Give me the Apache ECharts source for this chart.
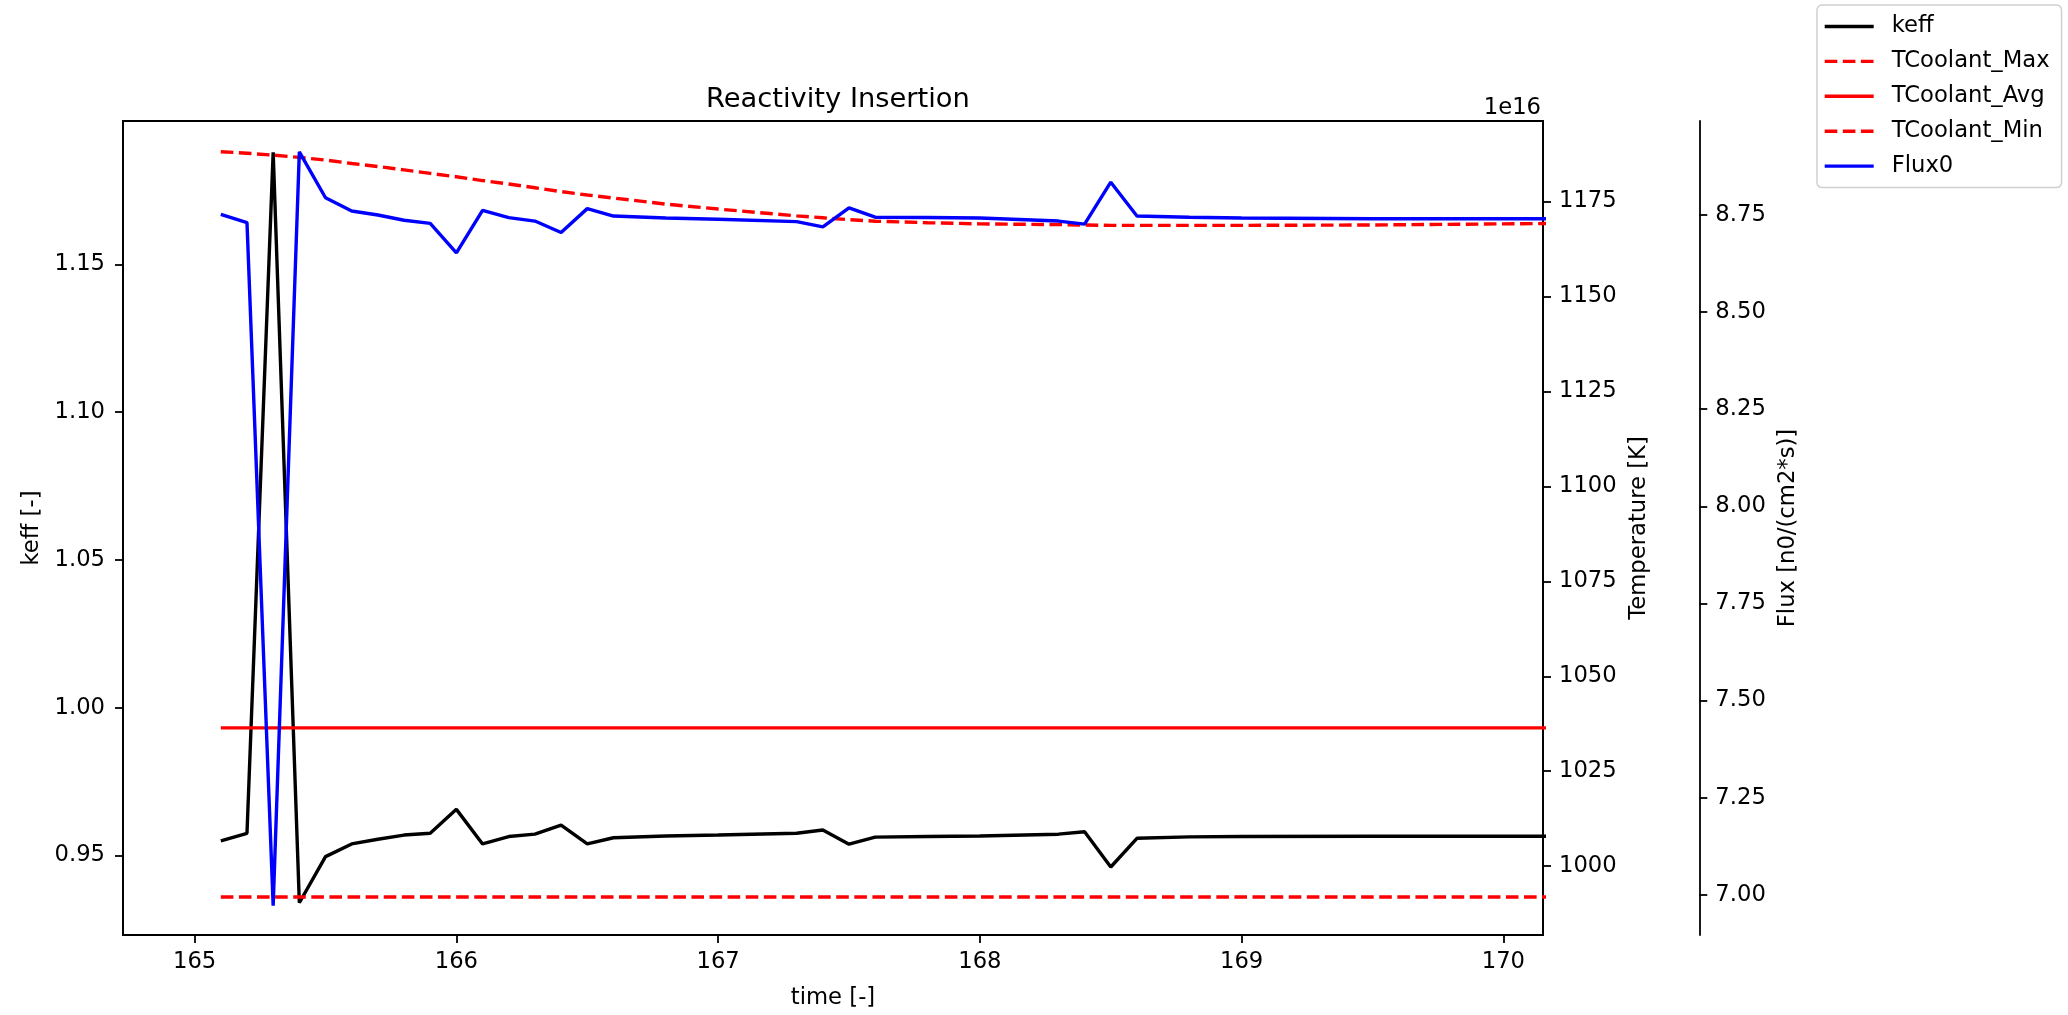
<!DOCTYPE html>
<html>
<head>
<meta charset="utf-8">
<script src="https://cdn.jsdelivr.net/npm/echarts@6/dist/echarts.min.js"></script>
<style>
html,body{margin:0;padding:0;background:#fff;}
#chart{width:2068px;height:1015px;}
</style>
</head>
<body>
<div id="chart"></div>
<script>
// ---- data ----
const time = [165.1,165.2,165.3,165.4,165.5,165.6,165.7,165.8,165.9,166.0,166.1,166.2,166.3,166.4,166.5,166.6,166.8,167.0,167.3,167.4,167.5,167.6,167.8,168.0,168.3,168.4,168.5,168.6,168.8,169.0,169.5,170.0,170.2];
const keff = [0.9549,0.9575,1.1880,0.9340,0.9496,0.9539,0.9555,0.9569,0.9575,0.9656,0.9539,0.9564,0.9572,0.9603,0.9539,0.9560,0.9566,0.9569,0.9575,0.9586,0.9538,0.9562,0.9564,0.9566,0.9572,0.9580,0.9461,0.9558,0.9563,0.9564,0.9565,0.9565,0.9565];
const tCoolantMax = [1188.1,1187.7,1187.2,1186.6,1185.9,1185.0,1184.2,1183.3,1182.4,1181.5,1180.5,1179.6,1178.6,1177.6,1176.7,1175.9,1174.3,1173.0,1171.2,1170.7,1170.2,1169.8,1169.4,1169.1,1168.9,1168.8,1168.7,1168.7,1168.7,1168.7,1168.8,1169.1,1169.2];
const tCoolantAvg = [1036.4,1036.4,1036.4,1036.4,1036.4,1036.4,1036.4,1036.4,1036.4,1036.4,1036.4,1036.4,1036.4,1036.4,1036.4,1036.4,1036.4,1036.4,1036.4,1036.4,1036.4,1036.4,1036.4,1036.4,1036.4,1036.4,1036.4,1036.4,1036.4,1036.4,1036.4,1036.4,1036.4];
const tCoolantMin = [991.9,991.9,991.9,991.9,991.9,991.9,991.9,991.9,991.9,991.9,991.9,991.9,991.9,991.9,991.9,991.9,991.9,991.9,991.9,991.9,991.9,991.9,991.9,991.9,991.9,991.9,991.9,991.9,991.9,991.9,991.9,991.9,991.9];
const flux0 = [8.751e16,8.730e16,6.972e16,8.912e16,8.794e16,8.760e16,8.7495e16,8.736e16,8.728e16,8.652e16,8.7615e16,8.743e16,8.734e16,8.7045e16,8.766e16,8.747e16,8.742e16,8.7385e16,8.7326e16,8.719e16,8.768e16,8.744e16,8.743e16,8.742e16,8.734e16,8.726e16,8.834e16,8.747e16,8.744e16,8.742e16,8.740e16,8.740e16,8.740e16];

const timeTicks = [165,166,167,168,169,170];
const keffTicks = [0.95,1.00,1.05,1.10,1.15];
const tempTicks = [1000,1025,1050,1075,1100,1125,1150,1175];
const fluxTicks = [7.00e16,7.25e16,7.50e16,7.75e16,8.00e16,8.25e16,8.50e16,8.75e16];

const seriesNames = ['keff','TCoolant_Max','TCoolant_Avg','TCoolant_Min','Flux0'];

// ---- chart ----
const FS = 22.7;
const LW = 3.4;
const DASH = [12.6, 5.5];
const font = 'DejaVu Sans';
const pair = arr => time.map((t,i)=>[t,arr[i]]);

const chart = echarts.init(document.getElementById('chart'), null, {renderer:'canvas'});

function yAxisBase(){
  return {
    type:'value',
    splitLine:{show:false},
    axisLine:{show:true,lineStyle:{color:'#000',width:1.8}},
    nameLocation:'middle',
    nameRotate:90,
    nameTextStyle:{color:'#000',fontSize:FS,fontFamily:font}
  };
}
function ticks(vals){ return {show:true,length:8,customValues:vals,lineStyle:{color:'#000',width:1.8}}; }
function labels(vals, fmt, margin){ return {color:'#000',fontSize:FS,fontFamily:font,margin:margin,customValues:vals,formatter:fmt}; }

const option = {
  animation:false,
  backgroundColor:'#fff',
  title:{
    text:'Reactivity Insertion',
    left:832.9, top:81.5, textAlign:'center',
    textStyle:{color:'#000',fontSize:27.3,fontWeight:'normal',fontFamily:font}
  },
  graphic:[{
    type:'text',
    x:1541, y:108,
    style:{text:'1e16',fill:'#000',fontSize:FS,fontFamily:font,align:'right',verticalAlign:'middle'}
  }],
  legend:{
    data:seriesNames,
    orient:'vertical',
    left:1817, top:5,
    padding:[10,12,10,6],
    itemWidth:49, itemHeight:14, itemGap:11.9,
    itemStyle:{opacity:0, borderWidth:0},
    lineStyle:{width:LW},
    borderColor:'#d0d0d0', borderWidth:1.5, borderRadius:5,
    backgroundColor:'rgba(255,255,255,0.8)',
    textStyle:{color:'#000',fontSize:FS,fontFamily:font,padding:[0,0,0,13]}
  },
  grid:{
    left:123, top:121, right:525, bottom:74,
    show:true, borderColor:'#000', borderWidth:1.8, backgroundColor:'transparent',
    containLabel:false
  },
  xAxis:{
    type:'value',
    min:164.7263, max:170.1513,
    splitLine:{show:false},
    axisLine:{show:true,onZero:false,lineStyle:{color:'#000',width:1.8}},
    axisTick:ticks(timeTicks),
    axisLabel:labels(timeTicks, v=>String(Math.round(v)), 16),
    name:'time [-]', nameLocation:'middle', nameGap:52,
    nameTextStyle:{color:'#000',fontSize:FS,fontFamily:font}
  },
  yAxis:[
    Object.assign(yAxisBase(),{
      position:'left', min:0.92308, max:1.19856,
      name:'keff [-]', nameGap:78,
      axisTick:ticks(keffTicks),
      axisLabel:labels(keffTicks, v=>v.toFixed(2), 18)
    }),
    Object.assign(yAxisBase(),{
      position:'right', offset:0, min:981.88, max:1196.18,
      name:'Temperature [K]', nameGap:75,
      axisTick:ticks(tempTicks),
      axisLabel:labels(tempTicks, v=>String(Math.round(v)), 16)
    }),
    Object.assign(yAxisBase(),{
      position:'right', offset:156.3, min:6.8968e16, max:8.9915e16,
      name:'Flux [n0/(cm2*s)]', nameGap:70,
      axisTick:ticks(fluxTicks),
      axisLabel:labels(fluxTicks, v=>(v/1e16).toFixed(2), 16)
    })
  ],
  series:[
    {name:'keff',type:'line',yAxisIndex:0,data:pair(keff),symbol:'none',clip:true,
     lineStyle:{color:'#000',width:LW},itemStyle:{color:'#000'}},
    {name:'TCoolant_Max',type:'line',yAxisIndex:1,data:pair(tCoolantMax),symbol:'none',clip:true,
     lineStyle:{color:'#ff0000',width:LW,type:DASH},itemStyle:{color:'#ff0000'}},
    {name:'TCoolant_Avg',type:'line',yAxisIndex:1,data:pair(tCoolantAvg),symbol:'none',clip:true,
     lineStyle:{color:'#ff0000',width:LW},itemStyle:{color:'#ff0000'}},
    {name:'TCoolant_Min',type:'line',yAxisIndex:1,data:pair(tCoolantMin),symbol:'none',clip:true,
     lineStyle:{color:'#ff0000',width:LW,type:DASH},itemStyle:{color:'#ff0000'}},
    {name:'Flux0',type:'line',yAxisIndex:2,data:pair(flux0),symbol:'none',clip:true,
     lineStyle:{color:'#0000ff',width:LW},itemStyle:{color:'#0000ff'}}
  ]
};
chart.setOption(option);
</script>
</body>
</html>
